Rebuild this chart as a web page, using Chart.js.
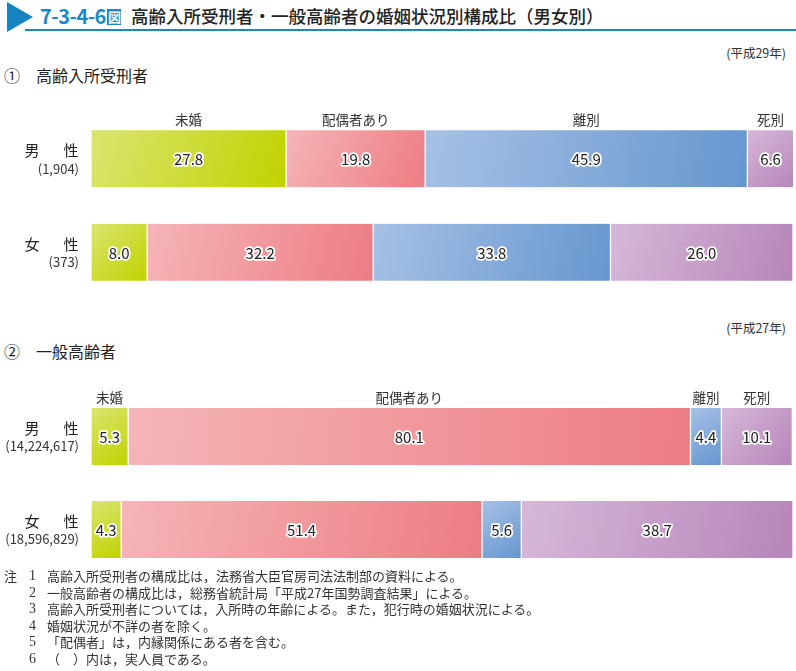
<!DOCTYPE html>
<html lang="ja">
<head>
<meta charset="utf-8">
<script src="https://cdn.jsdelivr.net/npm/chart.js@4"></script>
<style>
  body { margin: 0; width: 796px; height: 671px; position: relative; background: #fff;
         font-family: "Noto Sans CJK JP", "Noto Sans", sans-serif; color: #333; overflow: hidden; }
  .abs { position: absolute; white-space: nowrap; }
  .tri { left: 7px; top: 2px; width: 0; height: 0; border-top: 15px solid transparent;
         border-bottom: 15px solid transparent; border-left: 26px solid #1684c0; }
  .rule { left: 25px; top: 29px; width: 771px; height: 2px; background: #1a88c4; }
  .fig { left: 40px; top: 3px; font-size: 20px; font-weight: 700; color: #1a88c4; line-height: 26px; letter-spacing: -0.5px; }
  .fig span { display: inline-block; background: #1a88c4; color: #fff; font-size: 13px; line-height: 16px;
              padding: 0 1px; vertical-align: 2px; margin-left: 1px; }
  .title { left: 131px; top: 3px; font-size: 17.5px; font-weight: 500; color: #222; line-height: 26px; }
  .year { right: 10px; font-size: 12.5px; color: #333; }
  .sec { left: 4px; font-size: 16px; color: #222; }
  .sec b { font-weight: 400; display: inline-block; width: 32px; }
  canvas { position: absolute; left: 0; }
  .notes { left: 4px; top: 568px; font-size: 13px; line-height: 16.6px; color: #333; }
  .notes div { position: relative; padding-left: 43px; }
  .notes i { font-style: normal; position: absolute; left: 25px; font-family: "Liberation Serif", serif; font-size: 14px; }
  .notes u { text-decoration: none; position: absolute; left: 0; }
</style>
</head>
<body>
<div class="abs tri"></div>
<div class="abs rule"></div>
<div class="abs fig">7-3-4-6<span>図</span></div>
<div class="abs title">高齢入所受刑者・一般高齢者の婚姻状況別構成比（男女別）</div>

<div class="abs year" style="top:43px">(平成29年)</div>
<div class="abs sec" style="top:63px"><b>①</b>高齢入所受刑者</div>
<canvas id="chart1" width="796" height="200" style="top:100px"></canvas>

<div class="abs year" style="top:318px">(平成27年)</div>
<div class="abs sec" style="top:339px"><b>②</b>一般高齢者</div>
<canvas id="chart2" width="796" height="200" style="top:380px"></canvas>

<div class="abs notes">
  <div><u>注</u><i>1</i>高齢入所受刑者の構成比は，法務省大臣官房司法法制部の資料による。</div>
  <div><i>2</i>一般高齢者の構成比は，総務省統計局「平成27年国勢調査結果」による。</div>
  <div><i>3</i>高齢入所受刑者については，入所時の年齢による。また，犯行時の婚姻状況による。</div>
  <div><i>4</i>婚姻状況が不詳の者を除く。</div>
  <div><i>5</i>「配偶者」は，内縁関係にある者を含む。</div>
  <div><i>6</i>（　）内は，実人員である。</div>
</div>

<script>
// データ
const categories = ['未婚', '配偶者あり', '離別', '死別'];
const rowLabels = ['男性', '女性'];

const prisonCounts = ['(1,904)', '(373)'];
const prisonMale = [27.8, 19.8, 45.9, 6.6];
const prisonFemale = [8.0, 32.2, 33.8, 26.0];

const generalCounts = ['(14,224,617)', '(18,596,829)'];
const generalMale = [5.3, 80.1, 4.4, 10.1];
const generalFemale = [4.3, 51.4, 5.6, 38.7];

// 色（明るい→濃い）
const colors = [
  ['#dae570', '#c1d200'],
  ['#f5b5b7', '#ed7c83'],
  ['#a7c0e5', '#6597cf'],
  ['#d6b8d9', '#b685b9']
];
const BAR = 57;

function gradientFor(ctx) {
  const chart = ctx.chart;
  const area = chart.chartArea;
  const c = colors[ctx.datasetIndex];
  if (!area) return c[1];
  const x = chart.scales.x, y = chart.scales.y;
  const ds = chart.data.datasets;
  let start = 0;
  for (let i = 0; i < ctx.datasetIndex; i++) start += ds[i].data[ctx.dataIndex];
  const end = start + ds[ctx.datasetIndex].data[ctx.dataIndex];
  const x0 = x.getPixelForValue(start), x1 = x.getPixelForValue(end);
  const yc = y.getPixelForValue(ctx.dataIndex);
  const g = chart.ctx.createLinearGradient(x0, yc - BAR / 2, x1, yc + BAR / 2);
  g.addColorStop(0, c[0]);
  g.addColorStop(1, c[1]);
  return g;
}

// 数値ラベル・項目名・行ラベル
const labelPlugin = {
  id: 'labels',
  afterDatasetsDraw(chart) {
    const ctx = chart.ctx;
    const counts = chart.options.plugins.labels.counts;
    ctx.save();
    ctx.textAlign = 'center';
    ctx.textBaseline = 'middle';
    chart.data.datasets.forEach((ds, di) => {
      chart.getDatasetMeta(di).data.forEach((bar, i) => {
        const cx = (bar.x + bar.base) / 2;
        const txt = ds.data[i].toFixed(1);
        ctx.font = '15px "Noto Sans CJK JP", sans-serif';
        ctx.lineJoin = 'round';
        ctx.lineWidth = 3.5;
        ctx.strokeStyle = '#fff';
        ctx.strokeText(txt, cx, bar.y + 1);
        ctx.fillStyle = '#222';
        ctx.fillText(txt, cx, bar.y + 1);
        if (i === 0) {
          ctx.font = '13.5px "Noto Sans CJK JP", sans-serif';
          ctx.fillStyle = '#333';
          ctx.fillText(ds.label, cx, bar.y - BAR / 2 - 10);
        }
      });
    });
    const y = chart.scales.y;
    rowLabels.forEach((r, i) => {
      const yc = y.getPixelForValue(i);
      ctx.font = '15px "Noto Sans CJK JP", sans-serif';
      ctx.fillStyle = '#222';
      ctx.textAlign = 'center';
      ctx.fillText(r[0], 32, yc - 8);
      ctx.fillText(r[1], 71, yc - 8);
      ctx.font = '13px "Noto Sans CJK JP", sans-serif';
      ctx.fillStyle = '#333';
      ctx.textAlign = 'right';
      ctx.fillText(counts[i], 79, yc + 10);
    });
    ctx.restore();
  }
};

function makeChart(id, male, female, counts, padTop, padBottom) {
  new Chart(document.getElementById(id), {
    type: 'bar',
    data: {
      labels: rowLabels,
      datasets: categories.map((c, i) => ({
        label: c,
        data: [male[i], female[i]],
        backgroundColor: gradientFor,
        borderColor: 'rgba(255,255,255,0.85)',
        borderWidth: { left: 1, right: 1, top: 0, bottom: 0 },
        borderSkipped: false,
        barThickness: BAR
      }))
    },
    options: {
      indexAxis: 'y',
      responsive: false,
      animation: false,
      layout: { padding: { left: 91, right: 3, top: padTop, bottom: padBottom } },
      scales: {
        x: { stacked: true, min: 0, max: 100, display: false },
        y: { stacked: true, display: false }
      },
      plugins: {
        legend: { display: false },
        tooltip: { enabled: false },
        labels: { counts: counts }
      }
    },
    plugins: [labelPlugin]
  });
}

makeChart('chart1', prisonMale, prisonFemale, prisonCounts, 12, 1);
makeChart('chart2', generalMale, generalFemale, generalCounts, 10, 4);
</script>
</body>
</html>
